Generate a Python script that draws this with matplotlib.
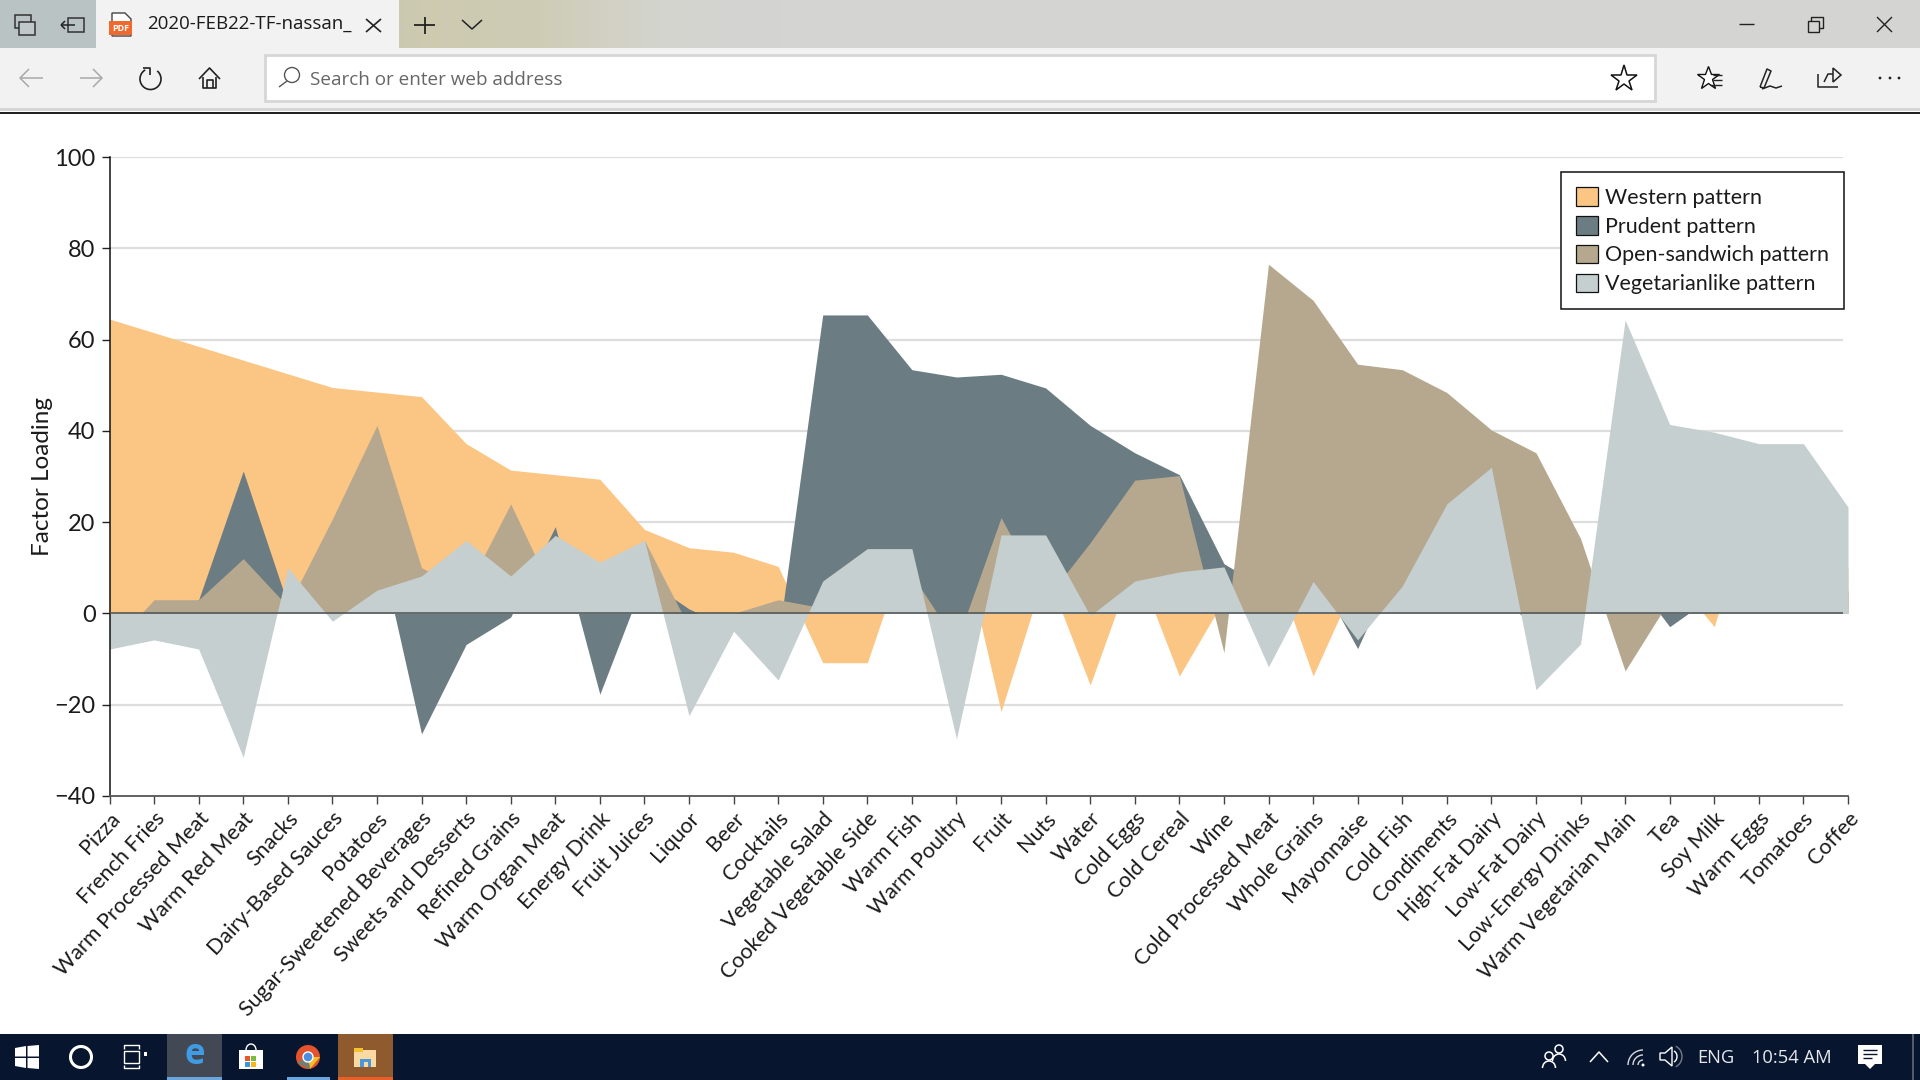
import numpy as np
import matplotlib
matplotlib.use("Agg")
import matplotlib.pyplot as plt
from matplotlib.patches import Patch, Rectangle, Circle, Polygon, Arc

foods = ["Pizza", "French Fries", "Warm Processed Meat", "Warm Red Meat", "Snacks",
         "Dairy-Based Sauces", "Potatoes", "Sugar-Sweetened Beverages", "Sweets and Desserts",
         "Refined Grains", "Warm Organ Meat", "Energy Drink", "Fruit Juices", "Liquor", "Beer",
         "Cocktails", "Vegetable Salad", "Cooked Vegetable Side", "Warm Fish", "Warm Poultry",
         "Fruit", "Nuts", "Water", "Cold Eggs", "Cold Cereal", "Wine", "Cold Processed Meat",
         "Whole Grains", "Mayonnaise", "Cold Fish", "Condiments", "High-Fat Dairy",
         "Low-Fat Dairy", "Low-Energy Drinks", "Warm Vegetarian Main", "Tea", "Soy Milk",
         "Warm Eggs", "Tomatoes", "Coffee"]

western = [64.5, 61.5, 58.5, 55.5, 52.5, 49.5, 48.5, 47.5, 37.2, 31.4, 30.4, 29.4, 18.4, 14.4, 13.4,
           10.3, -10.8, -10.8, 18, 21, -21.5, 9.5, -15.7, 11.5, -13.7, 3, 14,
           -13.7, 8, 5, 5, 5, 0, 0, 3, 9, -2.9, 30, 20, 10]
prudent = [0, 0, 3, 31.2, 2, 3, 17, -26.4, -6.8, -0.8, 19, -17.7, 7.6, 1, -3.5,
           -6, 65.4, 65.4, 53.4, 51.8, 52.4, 49.4, 41.2, 35.2, 30.4, 10.9, 5,
           10, -7.7, 14, 5, 5, -3, 2, 10, -2.9, 4, 0, 0, 0]
open_sandwich = [-7.5, 3, 3, 12, 1.5, 20.7, 41.2, 10, 5, 24, 3.3, 5, 16, -3, 0,
                 3, 1.2, 5, 8.5, -6.4, 21, 3, 15.5, 29.2, 30.2, -8.6, 76.5,
                 68.6, 54.6, 53.4, 48.4, 40.2, 35.2, 16.4, -12.6, 3, 5, 5, 5, 5]
vegetarian = [-7.8, -5.8, -7.8, -31.5, 10, -1.7, 5.1, 8.2, 16, 8.2, 17.1, 11.2, 16, -22.4, -3.9,
              -14.6, 7.1, 14.2, 14.2, -27.5, 17.2, 17.2, -0.5, 7.1, 9.1, 10.2, -11.7,
              7, -5.8, 6, 24, 32, -16.7, -6.7, 64.3, 41.4, 39.7, 37.2, 37.2, 23.3]

series_names = ["Western pattern", "Prudent pattern", "Open-sandwich pattern", "Vegetarianlike pattern"]
series_colors = ["#fbc584", "#6b7d82", "#b6a88e", "#c5cfd0"]
yticks = [-40, -20, 0, 20, 40, 60, 80, 100]

FONT = "Lato"
UI_FONT = "Open Sans"
DARK = "#1b1b1b"

fig = plt.figure(figsize=(19.2, 10.8), dpi=100, facecolor="white")

# browser window drawn in pixel coordinates behind the chart
ui = fig.add_axes([0, 0, 1, 1], zorder=0)
ui.set_xlim(0, 1920)
ui.set_ylim(1080, 0)
ui.axis("off")


def rect(x0, y0, x1, y1, fc="none", ec="none", lw=0, z=2):
    ui.add_patch(Rectangle((x0, y0), x1 - x0, y1 - y0, fc=fc, ec=ec, lw=lw, zorder=z))


def line(xs, ys, color="#222222", lw=1.0, z=3):
    ui.plot(xs, ys, color=color, lw=lw, zorder=z, solid_capstyle="butt")


# title bar, one colour stop every 128 px
strip = np.array([[185, 195, 196], [186, 195, 194], [190, 195, 185], [205, 202, 176], [207, 204, 182],
                  [211, 212, 206]] + [[212, 213, 211]] * 10) / 255
ui.imshow(strip[np.newaxis, :, :], extent=(0, 1920, 48, 0), aspect="auto", interpolation="bilinear", zorder=1)
ui.set_xlim(0, 1920)
ui.set_ylim(1080, 0)
rect(96, 0, 399, 48, fc="#f2f2f2")
rect(0, 48, 1920, 108, fc="#f2f2f2")
rect(0, 108, 1920, 111, fc="#d6d6d6")
rect(0, 112, 1920, 114, fc="#222222")
rect(265, 55, 1655, 101, fc="white", ec="#d6d6d6", lw=2)

# tab strip icons
rect(15, 15, 31, 28, ec="#333333", lw=1.1, z=3)
rect(19, 22, 35, 35, fc="#c0c8c9", ec="#333333", lw=1.1, z=3)
rect(68, 18, 84, 32, ec="#333333", lw=1.1, z=3)
line([61, 75], [25, 25], lw=1.1)
line([61, 65], [25, 21], lw=1.1)
line([61, 65], [25, 29], lw=1.1)
ui.add_patch(Polygon([(112, 13), (125, 13), (131, 19), (131, 36), (112, 36)], fc="white", ec="#444444", lw=1, zorder=3))
rect(109, 21, 132, 35, fc="#ef6a2e", z=4)
ui.text(120.5, 28.5, "PDF", color="white", fontsize=6.5, fontweight="bold", ha="center", va="center", family=UI_FONT, zorder=5)
ui.text(147, 24, "2020-FEB22-TF-nassan_", color="#1a1a1a", fontsize=13.5, ha="left", va="center", family=UI_FONT)
line([366, 381], [19, 32], lw=1.2)
line([366, 381], [32, 19], lw=1.2)
line([414, 435], [25, 25], lw=1.3)
line([424.5, 424.5], [17, 34], lw=1.3)
line([462, 472, 482], [20, 29, 20], lw=1.1)

# toolbar icons
for x0, x1, sign in [(20, 43, 1), (80, 102, -1)]:
    tip = x0 if sign > 0 else x1
    line([x0, x1], [78, 78], color="#a8a8a8", lw=1.1)
    line([tip + sign * 9, tip, tip + sign * 9], [69, 78, 87], color="#a8a8a8", lw=1.1)
ui.add_patch(Arc((150.5, 79), 21, 21, theta1=-50, theta2=240, color="#222222", lw=1.2, zorder=3))
line([143, 150, 150], [68, 68, 75], lw=1.2)
line([199, 209.5, 220], [79, 68, 79], lw=1.2)
line([203, 203, 216, 216], [77, 88, 88, 77], lw=1.2)
line([206.5, 206.5, 212.5, 212.5], [88, 80, 80, 88], lw=1.2)
ui.add_patch(Circle((292, 75), 7.5, fc="none", ec="#555555", lw=1, zorder=3))
line([279, 287], [87, 81], color="#555555", lw=1)
ui.text(310, 80, "Search or enter web address", color="#666666", fontsize=13.6, ha="left", va="center", family=UI_FONT)
ui.plot([1624], [79], marker="*", ms=20, mfc="white", mec="#111111", mew=1.1, zorder=3)
ui.plot([1708], [78], marker="*", ms=17, mfc="white", mec="#111111", mew=1.0, zorder=3)
for y, x0 in [(75, 1713), (80, 1713), (85, 1710)]:
    line([x0, 1722], [y, y], lw=1)
line([1760, 1767, 1771, 1764, 1760], [87, 69, 71, 88, 87], lw=1.1)
line([1762, 1770, 1776, 1782], [89, 86, 88, 86], lw=1.1)
line([1818, 1818, 1838], [74, 87, 87], lw=1.1)
line([1824, 1828, 1833], [82, 74, 74], lw=1.1)
ui.add_patch(Polygon([(1833, 68), (1841, 75), (1833, 82)], fc="none", ec="#222222", lw=1.1, zorder=3))
for x in [1880, 1890, 1899]:
    ui.add_patch(Circle((x, 78), 1.4, fc="#222222", zorder=3))

# window controls
line([1739, 1754], [24, 24], lw=1)
rect(1808, 21, 1819, 32, fc="#d4d5d3", ec="#222222", lw=1, z=3)
line([1811, 1811, 1823, 1823, 1819], [21, 17, 17, 28, 28], lw=1)
line([1877, 1892], [17, 32], lw=1)
line([1877, 1892], [32, 17], lw=1)

# taskbar
rect(0, 1034, 1920, 1080, fc="#07152e")
rect(1912, 1034, 1914, 1080, fc="#555b66", z=3)
rect(167, 1034, 222, 1080, fc="#434954", z=3)
rect(167, 1077, 222, 1080, fc="#6aa5dc", z=4)
rect(287, 1077, 330, 1080, fc="#6aa5dc", z=4)
rect(338, 1034, 393, 1080, fc="#8f5a2e", z=3)
rect(338, 1077, 393, 1080, fc="#e85f2a", z=4)
ui.add_patch(Polygon([(15, 1048), (26, 1046), (26, 1056.5), (15, 1056.5)], fc="white", zorder=4))
ui.add_patch(Polygon([(27.5, 1046), (39, 1045), (39, 1056.5), (27.5, 1056.5)], fc="white", zorder=4))
ui.add_patch(Polygon([(15, 1058), (26, 1058), (26, 1068), (15, 1066)], fc="white", zorder=4))
ui.add_patch(Polygon([(27.5, 1058), (39, 1058), (39, 1069), (27.5, 1068)], fc="white", zorder=4))
ui.add_patch(Circle((81, 1057), 10.5, fc="none", ec="white", lw=2.2, zorder=4))
rect(124, 1051, 139, 1063, ec="white", lw=1, z=4)
line([124, 124, 139, 139], [1049, 1045, 1045, 1049], color="white", lw=1, z=4)
line([124, 124, 139, 139], [1065, 1068, 1068, 1065], color="white", lw=1, z=4)
rect(144, 1052, 147, 1056, fc="white", z=4)
ui.text(195, 1055, "e", color="#3f9be4", fontsize=25, fontweight="bold", ha="center", va="center", family=UI_FONT, zorder=5)
rect(239, 1050, 263, 1069, fc="white", z=4)
rect(245, 1056, 250, 1061, fc="#e8562a", z=5)
rect(251, 1056, 256, 1061, fc="#7db93e", z=5)
rect(245, 1062, 250, 1067, fc="#3a96dd", z=5)
rect(251, 1062, 256, 1067, fc="#f5b91e", z=5)
ui.add_patch(Arc((251, 1050), 10, 12, theta1=180, theta2=360, color="white", lw=1, zorder=5))
ui.add_patch(Circle((308, 1057), 12, fc="#e2532e", zorder=4))
ui.add_patch(Polygon([(308, 1057), (320, 1057), (310, 1069)], fc="#f2bf2a", zorder=5))
ui.add_patch(Polygon([(308, 1057), (310, 1069), (297, 1063)], fc="#6f7f74", zorder=5))
ui.add_patch(Circle((308, 1057), 5, fc="#4a8fe0", ec="white", lw=1, zorder=6))
rect(354, 1050, 376, 1067, fc="#fbd9a2", z=4)
rect(354, 1048, 363, 1052, fc="#f5c230", z=5)
rect(360, 1059, 371, 1067, fc="#4b98d8", z=5)
rect(363.5, 1062, 367.5, 1067, fc="#fbd9a2", z=6)

# tray
for cx, cy in [(1559, 1049), (1549, 1056)]:
    ui.add_patch(Circle((cx, cy), 4, fc="#07152e", ec="white", lw=1.1, zorder=5))
    ui.add_patch(Arc((cx, cy + 12), 13, 14, theta1=180, theta2=360, color="white", lw=1.1, zorder=5))
line([1590, 1599, 1608], [1062, 1052, 1062], color="white", lw=1.1, z=4)
for r in [5, 10, 15]:
    ui.add_patch(Arc((1643, 1065), 2 * r, 2 * r, theta1=180, theta2=270, color="#d8dbe0", lw=1, zorder=4))
ui.add_patch(Circle((1643, 1065), 1.5, fc="white", zorder=4))
ui.add_patch(Polygon([(1660, 1053), (1665, 1053), (1672, 1047), (1672, 1066), (1665, 1060), (1660, 1060)],
                     fc="none", ec="white", lw=1, zorder=4))
ui.add_patch(Arc((1672, 1056.5), 10, 12, theta1=-70, theta2=70, color="white", lw=1, zorder=4))
ui.add_patch(Arc((1672, 1056.5), 20, 22, theta1=-70, theta2=70, color="#777c88", lw=1, zorder=4))
ui.text(1716, 1058, "ENG", color="#e6e8ec", fontsize=13.2, ha="center", va="center", family=UI_FONT)
ui.text(1792, 1058, "10:54 AM", color="#e6e8ec", fontsize=13.2, ha="center", va="center", family=UI_FONT)
ui.add_patch(Polygon([(1858, 1045), (1882, 1045), (1882, 1064), (1875, 1064), (1870, 1069), (1865, 1064), (1858, 1064)],
                     fc="white", zorder=4))
for y, x1 in [(1050, 1877), (1054, 1877), (1058, 1872)]:
    line([1863, x1], [y, y], color="#07152e", lw=1, z=5)

# chart
ax = fig.add_axes([109.5 / 1920, 1 - 796 / 1080, (1848 - 109.5) / 1920, (796 - 157) / 1080], zorder=2)
ax.patch.set_alpha(0)
x = np.arange(len(foods))

for tick in yticks:
    if tick not in (-40, 0):
        ax.hlines(tick, 0, 38.88, color="#dddddd", lw=1.6, zorder=1)

for vals, color in zip([western, prudent, open_sandwich, vegetarian], series_colors):
    ax.fill_between(x, vals, 0, color=color, lw=0, zorder=2)

ax.hlines(0, 0, 38.88, color="#55595b", lw=1.2, zorder=3)

ax.set_xlim(0, 39)
ax.set_ylim(-40, 100)
ax.set_yticks(yticks)
ax.set_xticks(x)
ax.set_xticklabels(foods, rotation=47, ha="right", va="top", rotation_mode="anchor", fontsize=15.5, family=FONT, color=DARK)
ax.tick_params(axis="y", length=6, width=1, color="#222222", labelsize=17, pad=4, labelcolor=DARK)
ax.tick_params(axis="x", length=6, width=1, color="#444444", pad=3)
for lab in ax.get_yticklabels():
    lab.set_family(FONT)
ax.set_ylabel("Factor Loading", fontsize=17.5, family=FONT, color=DARK)
ax.yaxis.set_label_coords((53 - 109.5) / (1848 - 109.5), (796 - 477) / (796 - 157))
ax.spines["top"].set_visible(False)
ax.spines["right"].set_visible(False)
ax.spines["left"].set_color("#111111")
ax.spines["bottom"].set_color("#555555")
ax.spines["left"].set_linewidth(1.1)
ax.spines["bottom"].set_linewidth(1.3)

handles = [Patch(fc=c, ec="#111111", lw=0.9) for c in series_colors]
leg = ax.legend(handles, series_names, loc="upper left", bbox_to_anchor=(1561 / 1920, 1 - 172 / 1080),
                bbox_transform=fig.transFigure, borderaxespad=0, fancybox=False, framealpha=1,
                edgecolor="#111111", handlelength=1.03, handleheight=0.95,
                handletextpad=0.3, labelspacing=0.38, borderpad=0.7,
                prop={"family": FONT, "size": 15.5})
leg.get_frame().set_linewidth(1.1)
for t in leg.get_texts():
    t.set_color(DARK)

fig.savefig("out.png", dpi=100)
